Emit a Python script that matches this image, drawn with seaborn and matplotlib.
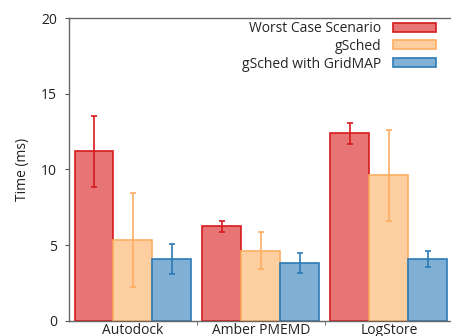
import matplotlib
matplotlib.use("Agg")
import matplotlib.pyplot as plt
import seaborn as sns
import pandas as pd
from matplotlib.patches import Patch

apps = ["Autodock", "Amber PMEMD", "LogStore"]
schemes = ["Worst Case Scenario", "gSched", "gSched with GridMAP"]
worst = [11.2, 6.25, 12.38]
worst_err = [2.35, 0.36, 0.67]
gsched = [5.32, 4.62, 9.6]
gsched_err = [3.1, 1.22, 3.0]
gridmap = [4.08, 3.83, 4.08]
gridmap_err = [1.0, 0.65, 0.5]

edge_colors = ["#d7191c", "#fdae61", "#2c7bb6"]
fill_colors = ["#e77575", "#fdcea0", "#80b0d3"]

rows = []
for s, vals, errs in zip(schemes, [worst, gsched, gridmap], [worst_err, gsched_err, gridmap_err]):
    for a, v, e in zip(apps, vals, errs):
        rows.append({"app": a, "scheme": s, "time": v, "err": e})
df = pd.DataFrame(rows)

sns.set_style("white")
plt.rcParams["font.family"] = ["Open Sans", "DejaVu Sans"]

fig = plt.figure(figsize=(4.51, 3.36), dpi=100)
ax = fig.add_axes([0.153, 0.0455, 0.851, 0.9005])

sns.barplot(data=df, x="app", y="time", hue="scheme", order=apps, hue_order=schemes,
            palette=fill_colors, saturation=1, width=0.914, gap=0, errorbar=None,
            ax=ax, legend=False)

for cont, s, ec in zip(ax.containers, schemes, edge_colors):
    sub = df[df["scheme"] == s].set_index("app").loc[apps]
    xs = []
    for p in cont.patches:
        p.set_edgecolor(ec)
        p.set_linewidth(1.2)
        xs.append(p.get_x() + p.get_width() / 2)
    ax.errorbar(xs, sub["time"].values, yerr=sub["err"].values, fmt="none",
                ecolor=ec, elinewidth=1.2, capsize=2.5, capthick=1.2, zorder=5)

ax.set_xlim(-0.5, 2.5)
ax.set_ylim(0, 20)
ax.set_yticks([0, 5, 10, 15, 20])
ax.set_xticks([0, 1, 2])
ax.set_xticklabels(apps)
ax.set_xticks([0.5, 1.5], minor=True)
ax.tick_params(axis="x", which="major", length=0, labelsize=10, pad=2, colors="#222222")
ax.tick_params(axis="x", which="minor", length=3, direction="out", color="#555555", bottom=True)
ax.tick_params(axis="y", which="major", length=3, direction="out", color="#555555",
               labelsize=10, colors="#222222", left=True, pad=5.5)
ax.set_xlabel("")
ax.set_ylabel("Time (ms)", fontsize=10, color="#222222", labelpad=8)

for side in ["left", "top", "bottom"]:
    ax.spines[side].set_visible(True)
    ax.spines[side].set_color("#666666")
    ax.spines[side].set_linewidth(1.0)
ax.spines["right"].set_visible(False)

handles = [Patch(facecolor=f, edgecolor=e, linewidth=1.2) for f, e in zip(fill_colors, edge_colors)]
ax.legend(handles, schemes, loc="upper right", frameon=False, markerfirst=False,
          fontsize=10, handlelength=3.1, handleheight=0.6, labelspacing=0.2,
          bbox_to_anchor=(436 / 451, 1 - 21 / 336), bbox_transform=fig.transFigure,
          borderaxespad=0, borderpad=0, handletextpad=0.85)

fig.savefig("out.png", dpi=100)
